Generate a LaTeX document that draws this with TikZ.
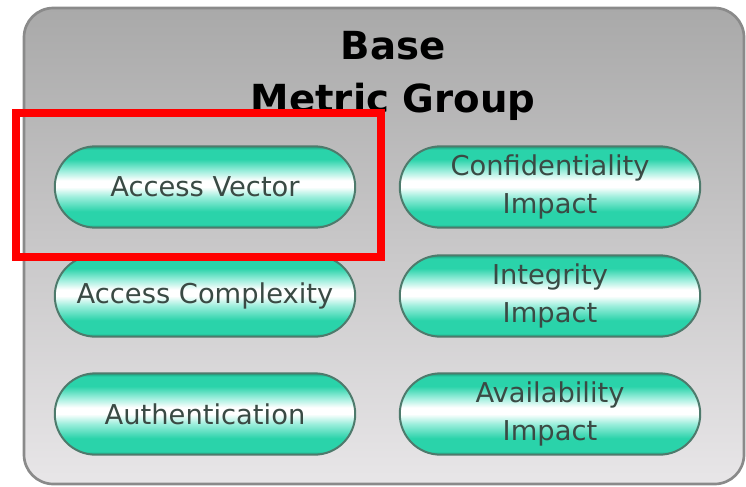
\documentclass[tikz,border=0pt]{standalone}
\usepackage{fontspec}
\setmainfont{DejaVu Sans}
\usetikzlibrary{shapes.misc}
\definecolor{boxtop}{HTML}{A9A9A9}
\definecolor{boxbottom}{HTML}{E8E6E8}
\definecolor{boxline}{HTML}{8A8A8A}
\definecolor{pillteal}{HTML}{2AD3AA}
\definecolor{pilldark}{HTML}{1E9E7C}
\definecolor{pilllight}{HTML}{9CEEDC}
\definecolor{pillline}{HTML}{4E7A6C}
\definecolor{pilltext}{HTML}{3A4A44}
\pgfdeclareverticalshading{pillshade}{100bp}{color(0bp)=(pilldark); color(25bp)=(pilldark); color(27bp)=(pillteal); color(35bp)=(pillteal); color(44bp)=(pilllight); color(50bp)=(white); color(54bp)=(white); color(60bp)=(pilllight); color(67bp)=(pillteal); color(73bp)=(pillteal); color(75bp)=(pilldark); color(100bp)=(pilldark)}
\begin{document}
\begin{tikzpicture}[x=0.75pt, y=-0.75pt, thick,
        metric node/.style={rounded rectangle, draw=pillline, line width=1.5pt, shading=pillshade, minimum width=232pt, minimum height=61pt, align=center, text=pilltext, font=\fontsize{20.5}{28}\selectfont},
        title node/.style={align=center, font=\fontsize{29}{40}\selectfont\bfseries}]
        \useasboundingbox (0,0) rectangle (746,486);
        \draw[boxline, line width=2pt, rounded corners=22pt, top color=boxtop, bottom color=boxbottom] (24,8) rectangle (744,484);

        \node[title node] at (393, 76) (title) {Base\\Metric Group};

        \node[metric node] at (205, 187) (av) {Access Vector};
        \node[metric node] at (550, 187) (ci) {Confidentiality\\Impact};
        \node[metric node] at (205, 296) (ac) {Access Complexity};
        \node[metric node] at (550, 296) (ii) {Integrity\\Impact};
        \node[metric node] at (205, 414) (au) {Authentication};
        \node[metric node] at (550, 414) (ai) {Availability\\Impact};

        \draw[red, line width=5.5pt] (16,113) rectangle (381,257);
        \end{tikzpicture}
\end{document}
